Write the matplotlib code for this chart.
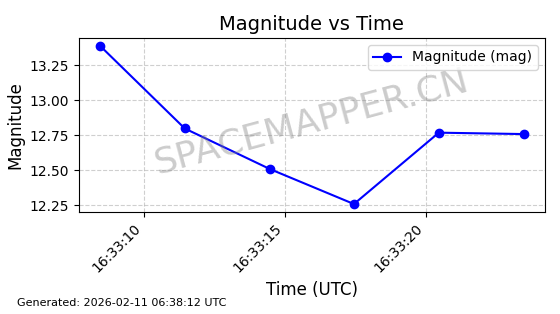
import matplotlib
matplotlib.use("Agg")
import matplotlib.pyplot as plt
import matplotlib.dates as mdates
from datetime import datetime

# observation times (seconds after 16:33:00 UTC) and magnitudes
seconds = [8.45, 11.45, 14.47, 17.45, 20.46, 23.47]
magnitudes = [13.39, 12.80, 12.51, 12.26, 12.77, 12.76]

times = [datetime(2026, 2, 11, 16, 33, int(s), int((s % 1) * 1e6)) for s in seconds]

fig = plt.figure(figsize=(5.6, 3.14), dpi=100)
ax = fig.add_axes([0.141, 0.325, 0.832, 0.554])

ax.plot(times, magnitudes, color="blue", marker="o", markersize=6, label="Magnitude (mag)")
ax.set_title("Magnitude vs Time", fontsize=14)
ax.set_xlabel("Time (UTC)", fontsize=12)
ax.set_ylabel("Magnitude", fontsize=12)
ax.grid(True, linestyle="--", alpha=0.6)
ax.legend(loc="upper right")

ax.xaxis.set_major_locator(mdates.SecondLocator(bysecond=range(0, 60, 5)))
ax.xaxis.set_major_formatter(mdates.DateFormatter("%H:%M:%S"))
plt.setp(ax.get_xticklabels(), rotation=45, ha="right")

ax.text(0.5, 0.52, "SPACEMAPPER.CN", transform=ax.transAxes, fontsize=26,
        color="gray", alpha=0.4, rotation=15, ha="center", va="center")

fig.text(0.03, 0.025, "Generated: 2026-02-11 06:38:12 UTC", fontsize=8)

fig.savefig("out.png", dpi=100)
